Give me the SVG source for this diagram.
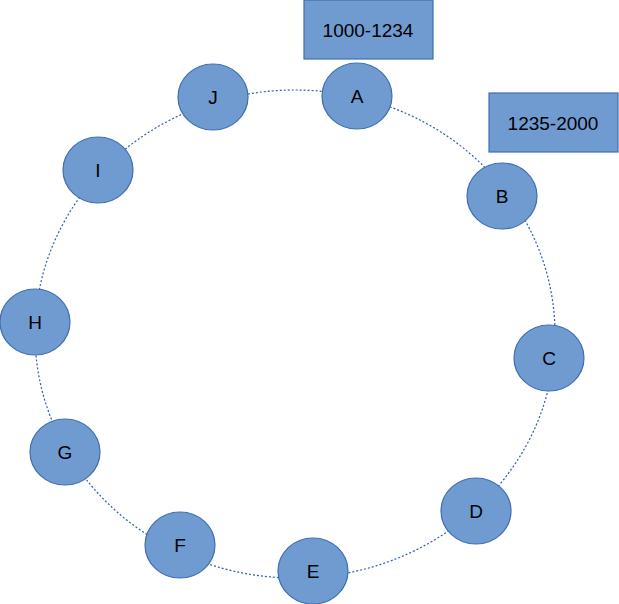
<svg xmlns="http://www.w3.org/2000/svg" width="619" height="604" viewBox="0 0 619 604">
<style>
.n{fill:#6f9bd1;stroke:#3f6fb0;stroke-width:1.2}
.t{font-family:"Liberation Sans",Arial,sans-serif;font-size:19px;fill:#000;text-anchor:middle;dominant-baseline:central}
.c{fill:none;stroke:#2f5fa8;stroke-width:1.2;stroke-dasharray:2 2}
</style>
<rect width="619" height="604" fill="#fff"/>
<g id="connectors"><ellipse class="c" cx="295" cy="334" rx="260" ry="244"/></g>
<g id="r1"><rect class="n" x="304" y="0" width="129" height="59"/><text class="t" x="368" y="30">1000-1234</text></g>
<g id="r2"><rect class="n" x="489" y="93" width="129" height="59"/><text class="t" x="553" y="123">1235-2000</text></g>
<g id="A"><ellipse class="n" cx="357" cy="96" rx="35" ry="33"/><text class="t" x="357" y="96">A</text></g>
<g id="B"><ellipse class="n" cx="502" cy="196" rx="35" ry="33"/><text class="t" x="502" y="196">B</text></g>
<g id="C"><ellipse class="n" cx="549" cy="358" rx="35" ry="33"/><text class="t" x="549" y="358">C</text></g>
<g id="D"><ellipse class="n" cx="476" cy="511" rx="35" ry="33"/><text class="t" x="476" y="511">D</text></g>
<g id="E"><ellipse class="n" cx="313" cy="571" rx="35" ry="33"/><text class="t" x="313" y="571">E</text></g>
<g id="F"><ellipse class="n" cx="180" cy="545" rx="35" ry="33"/><text class="t" x="180" y="545">F</text></g>
<g id="G"><ellipse class="n" cx="65" cy="452" rx="35" ry="33"/><text class="t" x="65" y="452">G</text></g>
<g id="H"><ellipse class="n" cx="35" cy="322" rx="35" ry="33"/><text class="t" x="35" y="322">H</text></g>
<g id="I"><ellipse class="n" cx="98" cy="170" rx="35" ry="33"/><text class="t" x="98" y="170">I</text></g>
<g id="J"><ellipse class="n" cx="213" cy="97" rx="35" ry="33"/><text class="t" x="213" y="97">J</text></g>
</svg>
